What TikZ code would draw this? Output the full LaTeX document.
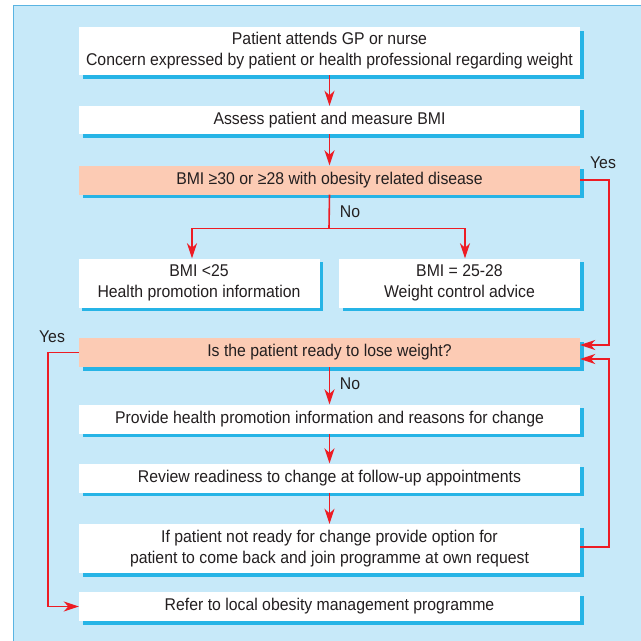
\documentclass[tikz,border=0pt]{standalone}
\usepackage{fontspec}
\setmainfont{Liberation Sans}[FakeStretch=0.93]
\usetikzlibrary{arrows.meta,shadows}
\definecolor{panelblue}{RGB}{199,233,249}
\definecolor{edgeblue}{RGB}{90,180,226}
\definecolor{shdblue}{RGB}{38,180,230}
\definecolor{salmon}{RGB}{252,203,180}
\definecolor{flowred}{RGB}{237,28,36}
\definecolor{inkgrey}{RGB}{35,31,32}
\begin{document}
\begin{tikzpicture}[x=1pt,y=-1pt,
  box/.style={rectangle, fill=white, inner sep=0pt, align=center, text=inkgrey,
    font=\fontsize{17}{21}\selectfont,
    general shadow={fill=shdblue, shadow xshift=3.5pt, shadow yshift=-3.5pt}},
  wide/.style={box, minimum width=501pt, minimum height=29pt},
  half/.style={box, minimum width=241pt, minimum height=49pt},
  query/.style={wide, fill=salmon},
  lbl/.style={text=inkgrey, font=\fontsize{17}{20}\selectfont, inner sep=0pt},
  link/.style={draw=flowred, line width=1.6pt},
  arr/.style={link, -{Stealth[length=15pt, width=10pt, inset=4.5pt]}}]
\useasboundingbox (0,0) rectangle (641,641);
% panel
\fill[panelblue] (13,5) rectangle (641,641);
\draw[edgeblue, line width=1pt] (13,641) -- (13,5) -- (641,5);
% boxes
\node[wide, minimum height=48pt] (attend) at (329.5,51) {Patient attends GP or nurse\\Concern expressed by patient or health professional regarding weight};
\node[wide, minimum height=28pt] (assess) at (329.5,120) {Assess patient and measure BMI};
\node[query] (bmi) at (329.5,180) {BMI ≥30 or ≥28 with obesity related disease};
\node[half] (low) at (199,283) {BMI <25\\Health promotion information};
\node[half] (mid) at (459.5,283) {BMI = 25-28\\Weight control advice};
\node[query] (ready) at (329.5,352.5) {Is the patient ready to lose weight?};
\node[wide] (provide) at (329.5,419) {Provide health promotion information and reasons for change};
\node[wide] (review) at (329.5,478) {Review readiness to change at follow-up appointments};
\node[wide, minimum height=49pt] (option) at (329.5,548.5) {If patient not ready for change provide option for\\patient to come back and join programme at own request};
\node[wide] (refer) at (329.5,606.5) {Refer to local obesity management programme};
% labels
\node[lbl] (yesA) at (603,163) {Yes};
\node[lbl] (noA) at (350,212) {No};
\node[lbl] (noB) at (350,384) {No};
\node[lbl] (yesB) at (52,337) {Yes};
% connectors
\coordinate (split) at (329,228.5);
\draw[arr] (attend.south) -- (assess.north);
\draw[arr] (assess.south) -- (bmi.north);
\draw[link] (bmi.south) -- (split);
\draw[arr] (split) -| ([xshift=-7pt]low.north);
\draw[arr] (split) -| ([xshift=5.5pt]mid.north);
\draw[arr] (bmi.east) -- ++(29,0) |- ([yshift=7.5pt]ready.east);
\draw[arr] ([yshift=1.5pt]option.east) -- ++(29,0) |- ([yshift=-6.5pt]ready.east);
\draw[arr] (ready.west) -- ++(-31,0) |- (refer.west);
\draw[arr] (ready.south) -- (provide.north);
\draw[arr] (provide.south) -- (review.north);
\draw[arr] (review.south) -- (option.north);
\end{tikzpicture}
\end{document}
